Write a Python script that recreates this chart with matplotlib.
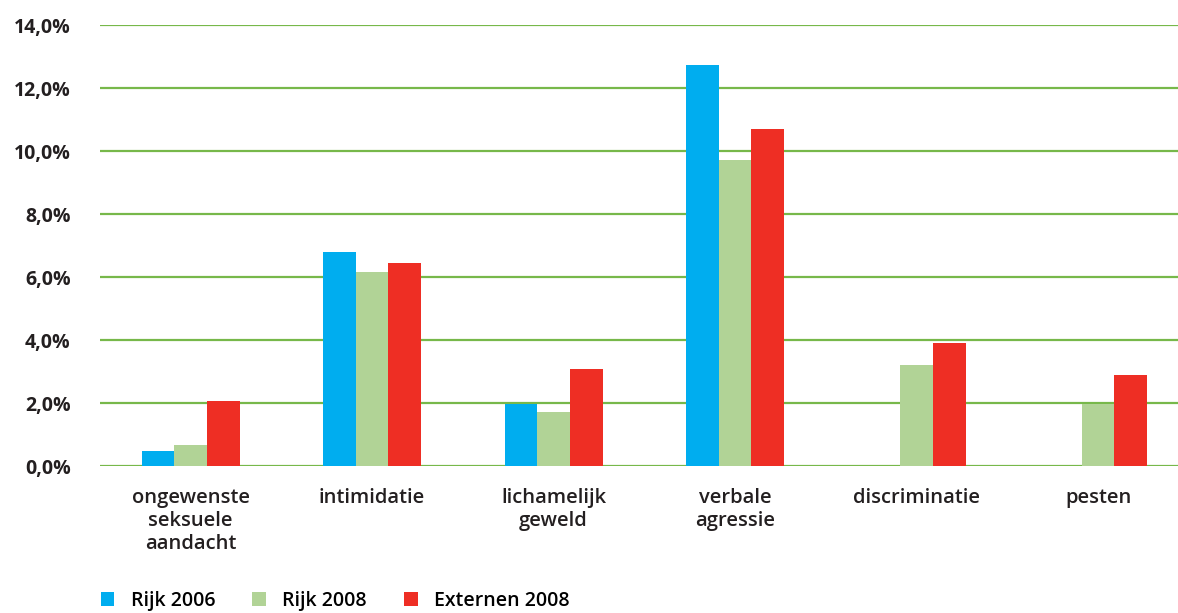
import numpy as np
import matplotlib.pyplot as plt

categories = ['ongewenste\nseksuele\naandacht', 'intimidatie', 'lichamelijk\ngeweld',
              'verbale\nagressie', 'discriminatie', 'pesten']
rijk_2006 = [0.48, 6.79, 1.97, 12.73, np.nan, np.nan]
rijk_2008 = [0.67, 6.16, 1.71, 9.71, 3.21, 1.97]
externen_2008 = [2.06, 6.44, 3.08, 10.70, 3.90, 2.89]
series_names = ['Rijk 2006', 'Rijk 2008', 'Externen 2008']
yticks = [0, 2, 4, 6, 8, 10, 12, 14]

colors = ['#00adef', '#b1d396', '#ee2e24']
grid_color = '#77b84a'
plt.rcParams['font.family'] = ['Open Sans', 'DejaVu Sans']

fig = plt.figure(figsize=(11.78, 6.13), dpi=100)
# axes run a little past the right edge, the gridlines are cut by the figure
ax = fig.add_axes([0.0847, 0.2398, 0.9245, 0.7194])

x = np.arange(len(categories))
w = 0.18
handles = []
for i, (vals, name) in enumerate(zip([rijk_2006, rijk_2008, externen_2008], series_names)):
    b = ax.bar(x + (i - 1) * w, vals, width=w, color=colors[i], label=name, zorder=3)
    handles.append(b)

for yv in yticks:
    ax.axhline(yv, color=grid_color, lw=1.6, zorder=1)

ax.set_xlim(-0.5, len(categories) - 0.5)
ax.set_ylim(0, 14)
ax.set_yticks(yticks)
ax.set_yticklabels([f'{v:.1f}%'.replace('.', ',') for v in yticks],
                   fontsize=14, fontweight='bold', color='#231f20')
ax.tick_params(axis='y', length=0, pad=21)
ax.set_xticks(x)
ax.set_xticklabels(categories, fontsize=14.5, fontweight='semibold', color='#231f20',
                   linespacing=1.2)
ax.tick_params(axis='x', length=0, pad=16)
for s in ax.spines.values():
    s.set_visible(False)

fig.legend(handles=handles, labels=series_names, loc='lower left',
           bbox_to_anchor=(0.0855, 0.004), ncol=3, frameon=False,
           prop={'size': 14, 'weight': 'semibold'}, handlelength=0.7, handleheight=0.7,
           handletextpad=0.85, columnspacing=1.9, borderaxespad=0, borderpad=0)

fig.savefig('out.png', dpi=100)
